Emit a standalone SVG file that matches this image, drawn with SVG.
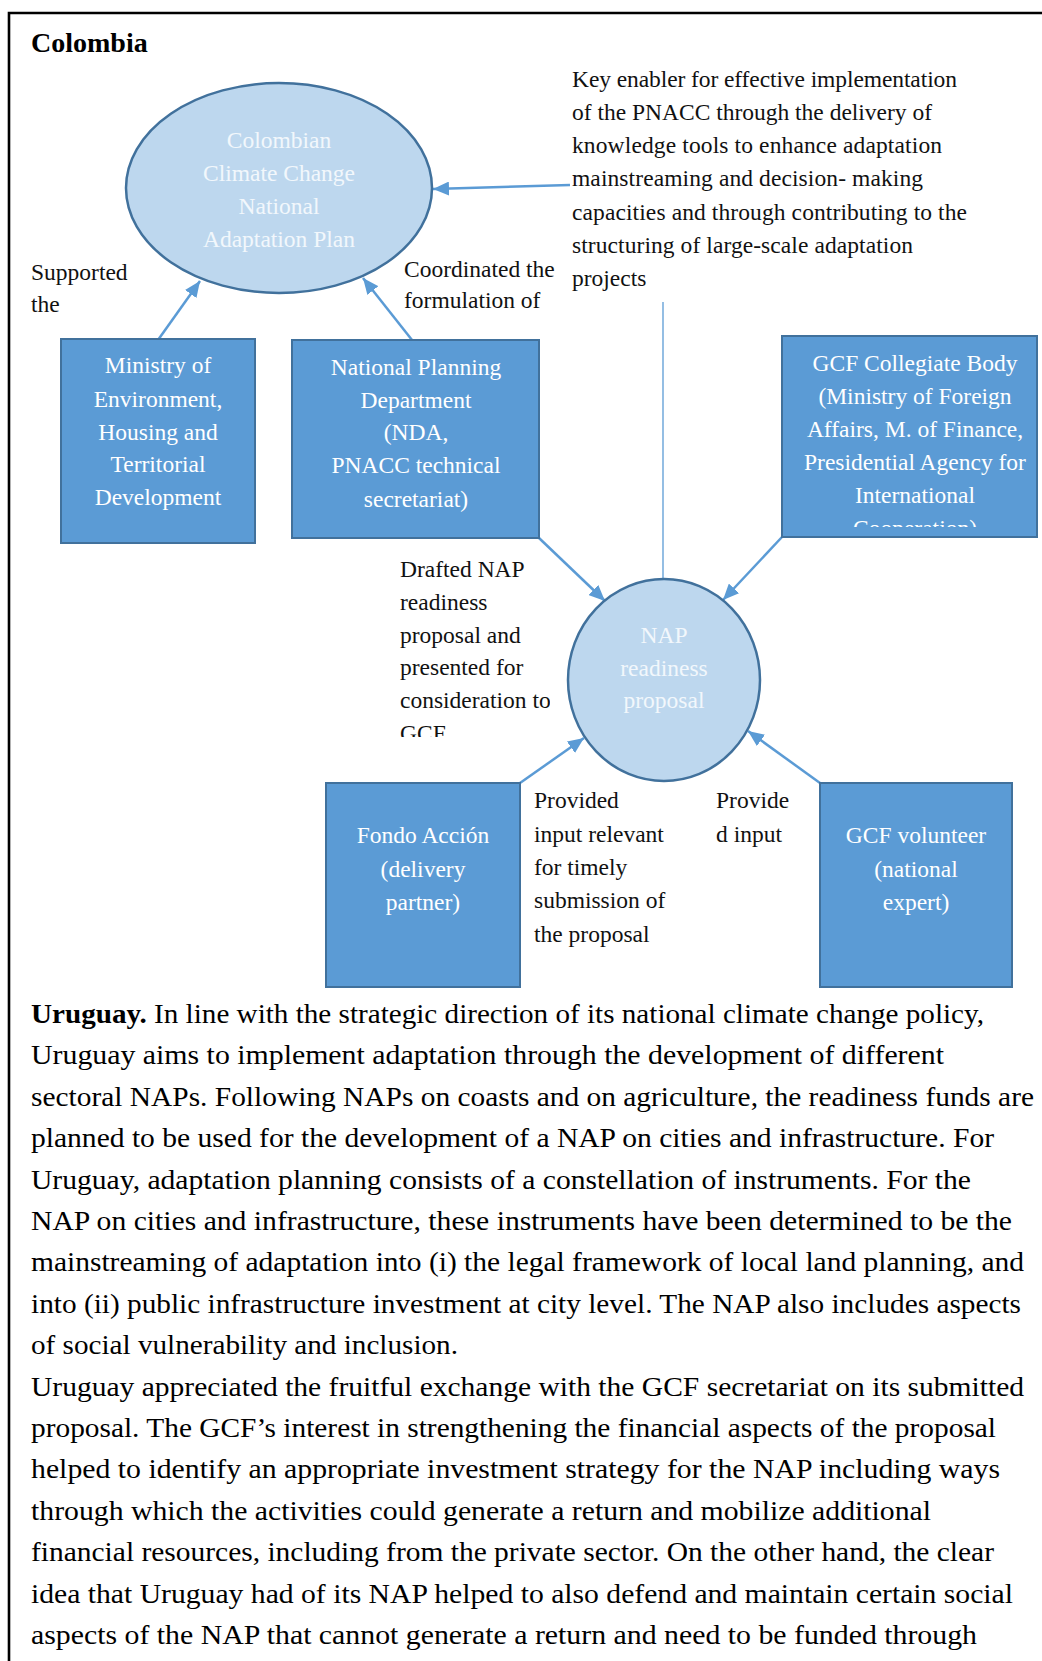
<svg xmlns="http://www.w3.org/2000/svg" width="1042" height="1661" viewBox="0 0 1042 1661">
<style>
text { font-family: "Liberation Serif", "Times New Roman", serif; }
.lbl { font-size: 23.5px; fill: #111111; }
.box { fill: #5B9BD5; stroke: #41719C; stroke-width: 2; }
.btxt { font-size: 23.5px; fill: #FFFFFF; text-anchor: middle; }
.ell { fill: #BDD7EE; stroke: #41719C; stroke-width: 2.5; }
.etxt { font-size: 23.5px; fill: #F2F7FC; text-anchor: middle; }
.conn { stroke: #5B9BD5; stroke-width: 2.5; fill: none; marker-end: url(#ah); }
.thin { stroke: #5B9BD5; stroke-width: 1.3; fill: none; }
.para { font-size: 27px; fill: #000000; }
.title { font-size: 28px; font-weight: bold; fill: #000000; }
</style>
<defs>
<marker id="ah" markerUnits="userSpaceOnUse" markerWidth="16" markerHeight="14" viewBox="0 0 16 14" refX="16" refY="7" orient="auto">
<path d="M0,0 L16,7 L0,14 z" fill="#5B9BD5"/>
</marker>
<clipPath id="clip-gcf"><rect x="782" y="336" width="255" height="191"/></clipPath>
<clipPath id="clip-drafted"><rect x="390" y="550" width="160" height="187"/></clipPath>
</defs>
<rect x="0" y="0" width="1042" height="1661" fill="#FFFFFF"/>
<path d="M9,1661 V13 H1042" fill="none" stroke="#000000" stroke-width="2.6"/>
<text class="title" x="31" y="52">Colombia</text>

<g id="connectors">
<path class="conn" d="M570,185 L433,189"/>
<path class="conn" d="M158,340 L200,281"/>
<path class="conn" d="M412,340 L363,278"/>
<path class="conn" d="M539,538 L605,601"/>
<path class="conn" d="M782,537 L723,600"/>
<path class="conn" d="M520,783 L584,738"/>
<path class="conn" d="M820,783 L748,731"/>
<path class="thin" d="M663,302 L663,578"/>
</g>

<g id="node-pnacc">
<ellipse class="ell" cx="279" cy="188" rx="153" ry="105"/>
<text class="etxt" x="279" y="148">Colombian</text>
<text class="etxt" x="279" y="181">Climate Change</text>
<text class="etxt" x="279" y="214">National</text>
<text class="etxt" x="279" y="247">Adaptation Plan</text>
</g>

<g id="label-key-enabler">
<text class="lbl" x="572" y="87" textLength="385">Key enabler for effective implementation</text>
<text class="lbl" x="572" y="120" textLength="360">of the PNACC through the delivery of</text>
<text class="lbl" x="572" y="153" textLength="370">knowledge tools to enhance adaptation</text>
<text class="lbl" x="572" y="186" textLength="351">mainstreaming and decision- making</text>
<text class="lbl" x="572" y="220" textLength="395">capacities and through contributing to the</text>
<text class="lbl" x="572" y="253" textLength="341">structuring of large-scale adaptation</text>
<text class="lbl" x="572" y="286">projects</text>
</g>

<g id="label-supported">
<text class="lbl" x="31" y="280">Supported</text>
<text class="lbl" x="31" y="312">the</text>
</g>

<g id="label-coordinated">
<text class="lbl" x="404" y="277">Coordinated the</text>
<text class="lbl" x="404" y="308">formulation of</text>
</g>

<g id="node-ministry">
<rect class="box" x="61" y="339" width="194" height="204"/>
<text class="btxt" x="158" y="373">Ministry of</text>
<text class="btxt" x="158" y="407">Environment,</text>
<text class="btxt" x="158" y="440">Housing and</text>
<text class="btxt" x="158" y="472">Territorial</text>
<text class="btxt" x="158" y="505">Development</text>
</g>

<g id="node-npd">
<rect class="box" x="292" y="340" width="247" height="198"/>
<text class="btxt" x="416" y="375">National Planning</text>
<text class="btxt" x="416" y="408">Department</text>
<text class="btxt" x="416" y="440">(NDA,</text>
<text class="btxt" x="416" y="473">PNACC technical</text>
<text class="btxt" x="416" y="507">secretariat)</text>
</g>

<g id="node-gcf-collegiate">
<rect class="box" x="782" y="336" width="255" height="201"/>
<g clip-path="url(#clip-gcf)">
<text class="btxt" x="915" y="371">GCF Collegiate Body</text>
<text class="btxt" x="915" y="404">(Ministry of Foreign</text>
<text class="btxt" x="915" y="437">Affairs, M. of Finance,</text>
<text class="btxt" x="915" y="470">Presidential Agency for</text>
<text class="btxt" x="915" y="503">International</text>
<text class="btxt" x="915" y="536">Cooperation)</text>
</g>
</g>

<g id="label-drafted" clip-path="url(#clip-drafted)">
<text class="lbl" x="400" y="577">Drafted NAP</text>
<text class="lbl" x="400" y="610">readiness</text>
<text class="lbl" x="400" y="643">proposal and</text>
<text class="lbl" x="400" y="675">presented for</text>
<text class="lbl" x="400" y="708">consideration to</text>
<text class="lbl" x="400" y="741">GCF</text>
</g>

<g id="node-nap">
<ellipse class="ell" cx="664" cy="680" rx="96" ry="101"/>
<text class="etxt" x="664" y="643">NAP</text>
<text class="etxt" x="664" y="676">readiness</text>
<text class="etxt" x="664" y="708">proposal</text>
</g>

<g id="node-fondo">
<rect class="box" x="326" y="783" width="194" height="204"/>
<text class="btxt" x="423" y="843">Fondo Acción</text>
<text class="btxt" x="423" y="877">(delivery</text>
<text class="btxt" x="423" y="910">partner)</text>
</g>

<g id="node-volunteer">
<rect class="box" x="820" y="783" width="192" height="204"/>
<text class="btxt" x="916" y="843">GCF volunteer</text>
<text class="btxt" x="916" y="877">(national</text>
<text class="btxt" x="916" y="910">expert)</text>
</g>

<g id="label-provided">
<text class="lbl" x="534" y="808">Provided</text>
<text class="lbl" x="534" y="842">input relevant</text>
<text class="lbl" x="534" y="875">for timely</text>
<text class="lbl" x="534" y="908">submission of</text>
<text class="lbl" x="534" y="942">the proposal</text>
</g>

<g id="label-provide">
<text class="lbl" x="716" y="808">Provide</text>
<text class="lbl" x="716" y="842">d input</text>
</g>

<g id="paragraph">
<text class="para" x="31" y="1023" textLength="953" lengthAdjust="spacingAndGlyphs"><tspan font-weight="bold">Uruguay.</tspan> In line with the strategic direction of its national climate change policy,</text>
<text class="para" x="31" y="1064.4" textLength="913" lengthAdjust="spacingAndGlyphs">Uruguay aims to implement adaptation through the development of different</text>
<text class="para" x="31" y="1105.8" textLength="1003" lengthAdjust="spacingAndGlyphs">sectoral NAPs. Following NAPs on coasts and on agriculture, the readiness funds are</text>
<text class="para" x="31" y="1147.2" textLength="963" lengthAdjust="spacingAndGlyphs">planned to be used for the development of a NAP on cities and infrastructure. For</text>
<text class="para" x="31" y="1188.6" textLength="940" lengthAdjust="spacingAndGlyphs">Uruguay, adaptation planning consists of a constellation of instruments. For the</text>
<text class="para" x="31" y="1230" textLength="981" lengthAdjust="spacingAndGlyphs">NAP on cities and infrastructure, these instruments have been determined to be the</text>
<text class="para" x="31" y="1271.4" textLength="993" lengthAdjust="spacingAndGlyphs">mainstreaming of adaptation into (i) the legal framework of local land planning, and</text>
<text class="para" x="31" y="1312.8" textLength="990" lengthAdjust="spacingAndGlyphs">into (ii) public infrastructure investment at city level. The NAP also includes aspects</text>
<text class="para" x="31" y="1354.2" textLength="427" lengthAdjust="spacingAndGlyphs">of social vulnerability and inclusion.</text>
<text class="para" x="31" y="1395.6" textLength="993" lengthAdjust="spacingAndGlyphs">Uruguay appreciated the fruitful exchange with the GCF secretariat on its submitted</text>
<text class="para" x="31" y="1437" textLength="965" lengthAdjust="spacingAndGlyphs">proposal. The GCF’s interest in strengthening the financial aspects of the proposal</text>
<text class="para" x="31" y="1478.4" textLength="969" lengthAdjust="spacingAndGlyphs">helped to identify an appropriate investment strategy for the NAP including ways</text>
<text class="para" x="31" y="1519.8" textLength="900" lengthAdjust="spacingAndGlyphs">through which the activities could generate a return and mobilize additional</text>
<text class="para" x="31" y="1561.2" textLength="963" lengthAdjust="spacingAndGlyphs">financial resources, including from the private sector. On the other hand, the clear</text>
<text class="para" x="31" y="1602.6" textLength="982" lengthAdjust="spacingAndGlyphs">idea that Uruguay had of its NAP helped to also defend and maintain certain social</text>
<text class="para" x="31" y="1644" textLength="946" lengthAdjust="spacingAndGlyphs">aspects of the NAP that cannot generate a return and need to be funded through</text>
</g>
</svg>
